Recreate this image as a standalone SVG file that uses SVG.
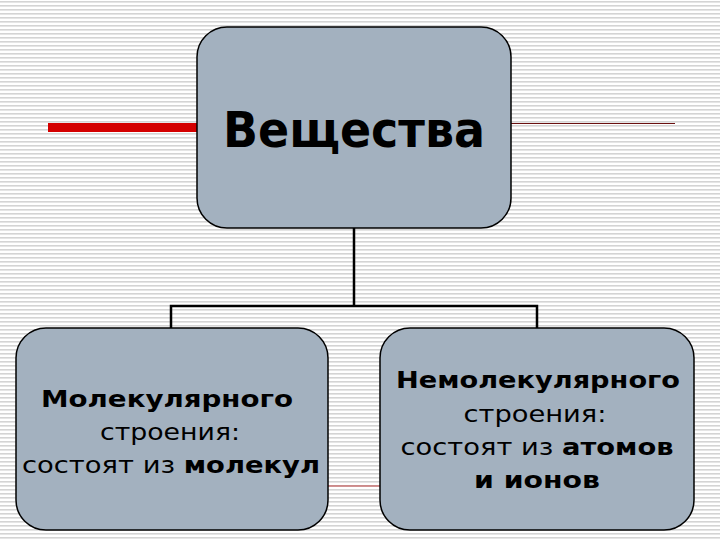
<svg xmlns="http://www.w3.org/2000/svg" width="720" height="540" viewBox="0 0 720 540">
<defs>
<pattern id="stripes" x="0" y="0" width="8" height="4" patternUnits="userSpaceOnUse">
<rect x="0" y="0" width="8" height="4" fill="#ffffff"/>
<rect x="0" y="1" width="8" height="1.6" fill="#d4d4d4"/>
</pattern>
</defs>
<style>
.box{fill:#a3b1bf;stroke:#000;stroke-width:1.5}
.conn{fill:none;stroke:#000;stroke-width:2.5}
.t{font-family:"DejaVu Sans",sans-serif;fill:#000;text-anchor:middle}
.b{font-weight:bold}
</style>
<rect width="720" height="540" fill="url(#stripes)"/>
<g id="decor">
<rect x="48" y="123" width="150" height="9" fill="#d40000"/>
<line x1="511" y1="123.5" x2="675" y2="123.5" stroke="#6a1010" stroke-width="1.2"/>
<line x1="328" y1="486" x2="380" y2="486" stroke="#c04040" stroke-width="1"/>
</g>
<g id="connectors">
<path class="conn" d="M354 228 V306 M171 328 V306 H537 V328"/>
</g>
<g id="node-top">
<rect class="box" x="197" y="27" width="314" height="201" rx="30" ry="30"/>
<text class="t b" x="354" y="147" font-size="50" textLength="262" lengthAdjust="spacingAndGlyphs">Вещества</text>
</g>
<g id="node-left">
<rect class="box" x="16" y="328" width="312" height="202" rx="30" ry="30"/>
<text class="t b" x="167" y="407" font-size="23" textLength="252" lengthAdjust="spacingAndGlyphs">Молекулярного</text>
<text class="t" x="170" y="440" font-size="23" textLength="140" lengthAdjust="spacingAndGlyphs">строения:</text>
<text class="t" x="171" y="473" font-size="23" textLength="298" lengthAdjust="spacingAndGlyphs">состоят из <tspan class="b">молекул</tspan></text>
</g>
<g id="node-right">
<rect class="box" x="380" y="328" width="314" height="202" rx="30" ry="30"/>
<text class="t b" x="538" y="388" font-size="23" textLength="284" lengthAdjust="spacingAndGlyphs">Немолекулярного</text>
<text class="t" x="535" y="422" font-size="23" textLength="143" lengthAdjust="spacingAndGlyphs">строения:</text>
<text class="t" x="537" y="455" font-size="23" textLength="273" lengthAdjust="spacingAndGlyphs">состоят из <tspan class="b">атомов</tspan></text>
<text class="t b" x="537" y="488" font-size="23" textLength="126" lengthAdjust="spacingAndGlyphs">и ионов</text>
</g>
</svg>
